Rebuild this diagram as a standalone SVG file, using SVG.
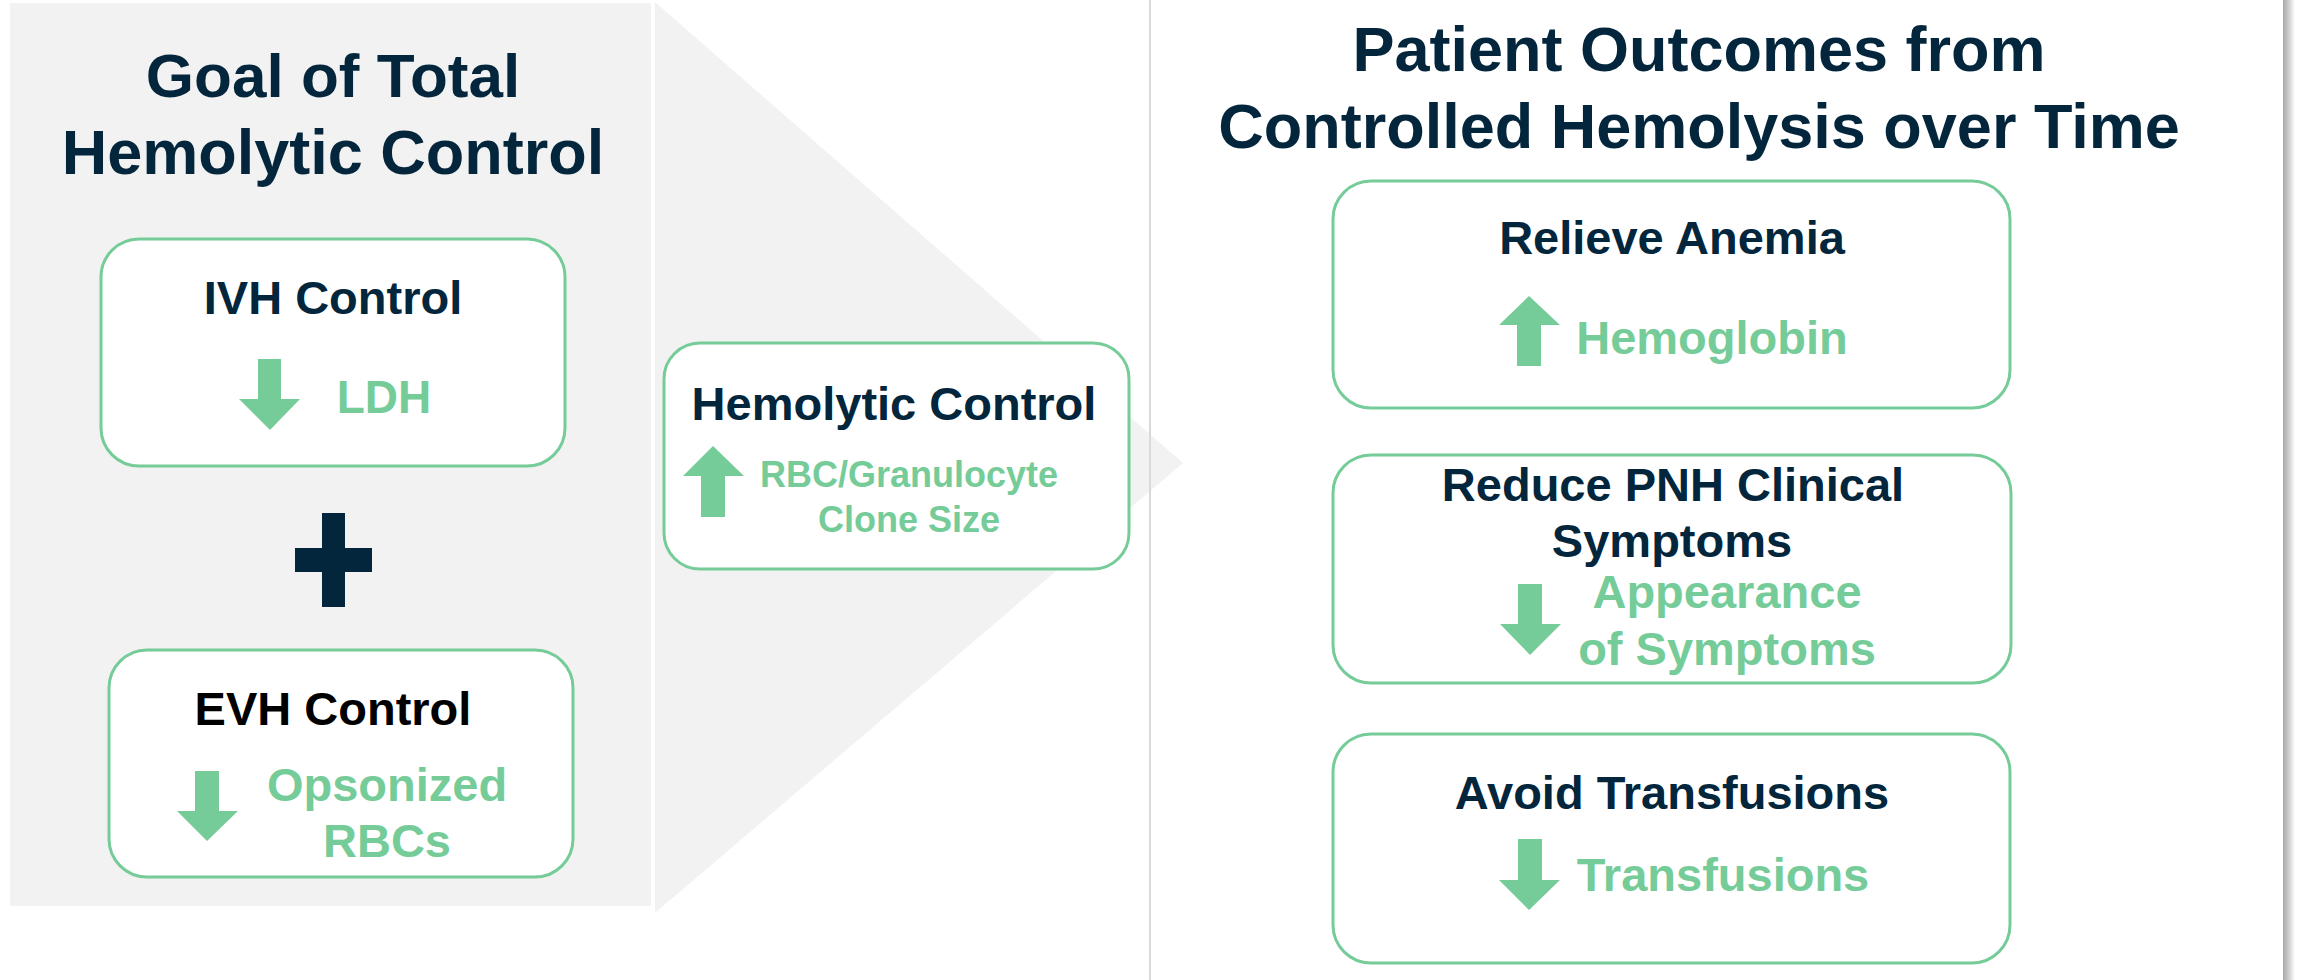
<svg xmlns="http://www.w3.org/2000/svg" width="2298" height="980" viewBox="0 0 2298 980">
<style>
.t{font-family:"Liberation Sans",Arial,sans-serif;font-weight:bold;text-anchor:middle}
.navy{fill:#03263c}
.blk{fill:#000000}
.grn{fill:#75cc98}
.box{fill:#ffffff;stroke:#75cc98;stroke-width:3}
.arr{fill:#75cc98}
</style>
<defs>
<linearGradient id="shadow" x1="0" y1="0" x2="1" y2="0">
<stop offset="0" stop-color="#a8a8a8"/>
<stop offset="0.5" stop-color="#cfcfcf"/>
<stop offset="1" stop-color="#ffffff"/>
</linearGradient>
</defs>
<rect width="2298" height="980" fill="#ffffff"/>
<g id="background">
<rect x="10" y="3" width="641" height="903" fill="#f2f2f2"/>
<polygon points="655,2 1183,463 655,913" fill="#f2f2f2"/>
<rect x="1149" y="0" width="2" height="980" fill="#d9d9d9"/>
<rect x="2283" y="0" width="12" height="980" fill="url(#shadow)"/>
</g>
<g id="title-left">
<text class="t navy" x="333" y="97" font-size="62">Goal of Total</text>
<text class="t navy" x="333" y="174" font-size="63">Hemolytic Control</text>
</g>
<g id="title-right">
<text class="t navy" x="1699" y="71" font-size="63">Patient Outcomes from</text>
<text class="t navy" x="1699" y="148" font-size="63">Controlled Hemolysis over Time</text>
</g>
<g id="ivh">
<rect class="box" x="101" y="239" width="464" height="227" rx="38" ry="38"/>
<text class="t navy" x="333" y="314" font-size="47">IVH Control</text>
<polygon class="arr" points="258,359 281,359 281,399 300,399 270,430 239,399 258,399"/>
<text class="t grn" x="384" y="413" font-size="46">LDH</text>
</g>
<g id="plus">
<rect x="322" y="513" width="23" height="94" fill="#03263c"/>
<rect x="295" y="548" width="77" height="24" fill="#03263c"/>
</g>
<g id="evh">
<rect class="box" x="109" y="650" width="464" height="227" rx="38" ry="38"/>
<text class="t blk" x="333" y="725" font-size="47">EVH Control</text>
<polygon class="arr" points="195,771 219,771 219,811 238,811 207,841 177,811 195,811"/>
<text class="t grn" x="387" y="801" font-size="47">Opsonized</text>
<text class="t grn" x="387" y="857" font-size="47">RBCs</text>
</g>
<g id="hemolytic">
<rect class="box" x="664" y="343" width="465" height="226" rx="36" ry="36"/>
<text class="t navy" x="894" y="420" font-size="47">Hemolytic Control</text>
<polygon class="arr" points="713,446 744,476 725,476 725,517 701,517 701,476 683,476"/>
<text class="t grn" x="909" y="487" font-size="36">RBC/Granulocyte</text>
<text class="t grn" x="909" y="532" font-size="36">Clone Size</text>
</g>
<g id="anemia">
<rect class="box" x="1333" y="181" width="677" height="227" rx="38" ry="38"/>
<text class="t navy" x="1672" y="254" font-size="47">Relieve Anemia</text>
<polygon class="arr" points="1529,296 1560,325 1541,325 1541,366 1517,366 1517,325 1499,325"/>
<text class="t grn" x="1712" y="354" font-size="47">Hemoglobin</text>
</g>
<g id="symptoms">
<rect class="box" x="1333" y="455" width="678" height="228" rx="38" ry="38"/>
<text class="t navy" x="1673" y="501" font-size="47">Reduce PNH Clinical</text>
<text class="t navy" x="1672" y="557" font-size="47">Symptoms</text>
<polygon class="arr" points="1518,584 1542,584 1542,624 1561,624 1530,655 1500,624 1518,624"/>
<text class="t grn" x="1727" y="608" font-size="47">Appearance</text>
<text class="t grn" x="1727" y="665" font-size="47">of Symptoms</text>
</g>
<g id="transfusions">
<rect class="box" x="1333" y="734" width="677" height="229" rx="38" ry="38"/>
<text class="t navy" x="1672" y="809" font-size="47">Avoid Transfusions</text>
<polygon class="arr" points="1518,839 1542,839 1542,880 1560,880 1529,910 1499,880 1518,880"/>
<text class="t grn" x="1723" y="891" font-size="47">Transfusions</text>
</g>
<g id="connectors"></g>
</svg>
